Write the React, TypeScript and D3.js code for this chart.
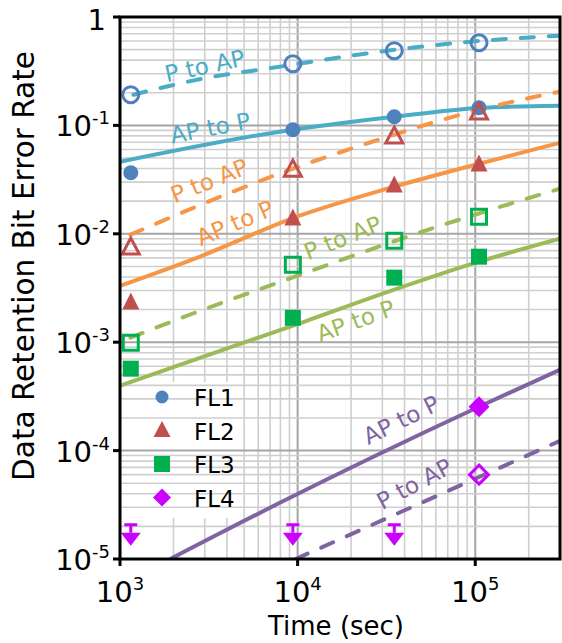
import React, { useEffect, useRef } from "react";
import * as d3 from "d3";

// marker times (sec)
const markerTimes = [1150, 9400, 35000, 105000];

// measured bit error rates, open = P to AP, filled = AP to P
const fl1Open = [0.192, 0.371, 0.489, 0.579];
const fl1Filled = [0.0366, 0.0913, 0.12, 0.1456];
const fl2Open = [0.00745, 0.039, 0.0787, 0.131];
const fl2Filled = [0.00231, 0.0138, 0.0278, 0.0434];
const fl3Open = [0.00099, 0.00519, 0.00863, 0.0144];
const fl3Filled = [0.00057, 0.00168, 0.00394, 0.00615];
const fl4OpenTimes = [105000];
const fl4Open = [6.0e-5];
const fl4FilledTimes = [105000];
const fl4Filled = [2.54e-4];
// upper limits (no errors observed)
const fl4LimitTimes = [1150, 9400, 35000];
const fl4Limit = [1.67e-5, 1.67e-5, 1.67e-5];

// fitted curves
const fl1PapT = [1190, 3090, 7250, 28800, 81000, 300000];
const fl1PapV = [0.192, 0.275, 0.34, 0.478, 0.579, 0.672];
const fl1AppT = [1000, 7940, 35000, 105000, 300000];
const fl1AppV = [0.0462, 0.0875, 0.12, 0.145, 0.152];
const fl2PapT = [1145, 1800, 3900, 8150, 25300, 105000, 300000];
const fl2PapV = [0.00981, 0.0135, 0.0229, 0.0366, 0.0692, 0.1396, 0.205];
const fl2AppT = [1000, 2550, 10270, 35000, 105000, 300000];
const fl2AppV = [0.0033, 0.00577, 0.0147, 0.0272, 0.0443, 0.0692];
const fl3PapT = [1145, 2550, 9640, 48300, 300000];
const fl3PapV = [0.0011, 0.00183, 0.00402, 0.01023, 0.0261];
const fl3AppT = [1000, 10960, 35000, 105000, 300000];
const fl3AppV = [0.000397, 0.00155, 0.00305, 0.00553, 0.00901];
const fl4AppT = [1920, 7940, 105000, 300000];
const fl4AppV = [1e-5, 3.3e-5, 2.54e-4, 5.57e-4];
const fl4PapT = [9750, 300000];
const fl4PapV = [1e-5, 1.23e-4];

const xTickExp = [3, 4, 5];
const yTickExp = [-5, -4, -3, -2, -1, 0];
const legendNames = ["FL1", "FL2", "FL3", "FL4"];

const curveLabels = [
  { text: "P to AP", t: 3000, v: 0.355, angle: -12, color: "#4bacc6" },
  { text: "AP to P", t: 3220, v: 0.0952, angle: -11, color: "#4bacc6" },
  { text: "P to AP", t: 3180, v: 0.0309, angle: -22, color: "#f79646" },
  { text: "AP to P", t: 4440, v: 0.01265, angle: -23, color: "#f79646" },
  { text: "P to AP", t: 17900, v: 0.0092, angle: -22, color: "#9bbb59" },
  { text: "AP to P", t: 21200, v: 0.00158, angle: -20, color: "#9bbb59" },
  { text: "AP to P", t: 38300, v: 1.93e-4, angle: -26, color: "#8064a2" },
  { text: "P to AP", t: 45300, v: 4.94e-5, angle: -28, color: "#8064a2" },
];

const FONT = "'DejaVu Sans', sans-serif";

function App() {
  const svgRef = useRef<SVGSVGElement | null>(null);

  useEffect(() => {
    const svg = d3.select(svgRef.current);
    svg.selectAll("*").remove();
    const left = 120, right = 560, top = 17, bottom = 559;

    const x = d3.scaleLog().domain([1e3, 3e5]).range([left, right]);
    const y = d3.scaleLog().domain([1e-5, 1]).range([bottom, top]);

    svg
      .append("defs")
      .append("clipPath")
      .attr("id", "plot-clip")
      .append("rect")
      .attr("x", left)
      .attr("y", top)
      .attr("width", right - left)
      .attr("height", bottom - top);

    // vertical grid
    const xGrid: { v: number; major: boolean }[] = [];
    for (let e = 3; e <= 5; e++)
      for (let k = 1; k <= 9; k++) {
        const v = k * Math.pow(10, e);
        if (v <= 3e5) xGrid.push({ v, major: k === 1 });
      }
    svg
      .append("g")
      .selectAll("line")
      .data(xGrid)
      .join("line")
      .attr("x1", (d) => x(d.v))
      .attr("x2", (d) => x(d.v))
      .attr("y1", top)
      .attr("y2", bottom)
      .attr("stroke", (d) => (d.major ? "#a6a6a6" : "#cfcfcf"))
      .attr("stroke-width", (d) => (d.major ? 2 : 1.6));

    // legend background (covers vertical grid only)
    svg
      .append("rect")
      .attr("x", 140)
      .attr("y", 382)
      .attr("width", 100)
      .attr("height", 136)
      .attr("fill", "#fff");

    // horizontal grid
    const yGrid: { v: number; major: boolean }[] = [];
    for (let e = -5; e <= -1; e++)
      for (let k = 1; k <= 9; k++) yGrid.push({ v: k * Math.pow(10, e), major: k === 1 });
    svg
      .append("g")
      .selectAll("line")
      .data(yGrid)
      .join("line")
      .attr("x1", left)
      .attr("x2", right)
      .attr("y1", (d) => y(d.v))
      .attr("y2", (d) => y(d.v))
      .attr("stroke", (d) => (d.major ? "#a6a6a6" : "#cfcfcf"))
      .attr("stroke-width", (d) => (d.major ? 2 : 1.6));

    // curves
    const line = d3
      .line<[number, number]>()
      .x((d) => x(d[0]))
      .y((d) => y(d[1]))
      .curve(d3.curveMonotoneX);
    const curves = [
      { t: fl1PapT, v: fl1PapV, color: "#4bacc6", dash: true },
      { t: fl1AppT, v: fl1AppV, color: "#4bacc6", dash: false },
      { t: fl2PapT, v: fl2PapV, color: "#f79646", dash: true },
      { t: fl2AppT, v: fl2AppV, color: "#f79646", dash: false },
      { t: fl3PapT, v: fl3PapV, color: "#9bbb59", dash: true },
      { t: fl3AppT, v: fl3AppV, color: "#9bbb59", dash: false },
      { t: fl4AppT, v: fl4AppV, color: "#8064a2", dash: false },
      { t: fl4PapT, v: fl4PapV, color: "#8064a2", dash: true },
    ];
    const cg = svg.append("g").attr("clip-path", "url(#plot-clip)");
    curves.forEach((c) => {
      cg.append("path")
        .datum(c.t.map((t, i) => [t, c.v[i]] as [number, number]))
        .attr("fill", "none")
        .attr("stroke", c.color)
        .attr("stroke-width", 4)
        .attr("stroke-linecap", c.dash ? "round" : "butt")
        .attr("stroke-dasharray", c.dash ? "13,15" : null)
        .attr("d", line);
    });

    // curve labels
    svg
      .append("g")
      .selectAll("text")
      .data(curveLabels)
      .join("text")
      .attr("transform", (d) => `translate(${x(d.t)},${y(d.v)}) rotate(${d.angle})`)
      .attr("text-anchor", "middle")
      .attr("dy", "0.36em")
      .attr("font-family", FONT)
      .attr("font-size", 23)
      .attr("fill", (d) => d.color)
      .text((d) => d.text);

    // marker shapes
    const tri = (w: number, h: number) =>
      `M0,${-h * 0.6}L${w / 2},${h * 0.4}L${-w / 2},${h * 0.4}Z`;
    const sq = (s: number) => `M${-s / 2},${-s / 2}h${s}v${s}h${-s}Z`;
    const dia = (s: number) => `M0,${-s / 2}L${s / 2},0L0,${s / 2}L${-s / 2},0Z`;
    const circ = (r: number) => `M${r},0A${r},${r} 0 1,1 ${-r},0A${r},${r} 0 1,1 ${r},0Z`;

    const mg = svg.append("g");
    const drawMarkers = (
      times: number[],
      vals: number[],
      shape: string,
      color: string,
      open: boolean
    ) => {
      mg.append("g")
        .selectAll("path")
        .data(vals)
        .join("path")
        .attr("transform", (d, i) => `translate(${x(times[i])},${y(d)})`)
        .attr("d", shape)
        .attr("fill", open ? "none" : color)
        .attr("stroke", open ? color : "none")
        .attr("stroke-width", open ? 3 : 0);
    };
    drawMarkers(markerTimes, fl1Open, circ(8), "#4f81bd", true);
    drawMarkers(markerTimes, fl1Filled, circ(7.5), "#4f81bd", false);
    drawMarkers(markerTimes, fl2Open, tri(17, 16), "#c0504d", true);
    drawMarkers(markerTimes, fl2Filled, tri(17, 17), "#c0504d", false);
    drawMarkers(markerTimes, fl3Open, sq(15), "#00b050", true);
    drawMarkers(markerTimes, fl3Filled, sq(16), "#00b050", false);
    drawMarkers(fl4FilledTimes, fl4Filled, dia(21), "#cc00ff", false);
    drawMarkers(fl4OpenTimes, fl4Open, dia(19), "#cc00ff", true);

    // upper-limit arrows
    const arrows = mg
      .append("g")
      .selectAll("g")
      .data(fl4Limit)
      .join("g")
      .attr("transform", (d, i) => `translate(${x(fl4LimitTimes[i])},${y(d)})`);
    arrows
      .append("path")
      .attr("d", "M-6.5,-10H6.5M0,-10V-2")
      .attr("stroke", "#cc00ff")
      .attr("stroke-width", 3)
      .attr("fill", "none");
    arrows.append("path").attr("d", "M-10,-2L10,-2L0,11Z").attr("fill", "#cc00ff");

    // frame
    svg
      .append("rect")
      .attr("x", left)
      .attr("y", top)
      .attr("width", right - left)
      .attr("height", bottom - top)
      .attr("fill", "none")
      .attr("stroke", "#000")
      .attr("stroke-width", 3);

    // ticks
    svg
      .append("g")
      .selectAll("line")
      .data(yTickExp)
      .join("line")
      .attr("x1", left - 7)
      .attr("x2", left)
      .attr("y1", (e) => y(Math.pow(10, e)))
      .attr("y2", (e) => y(Math.pow(10, e)))
      .attr("stroke", "#000")
      .attr("stroke-width", 3);
    svg
      .append("g")
      .selectAll("line")
      .data(xTickExp)
      .join("line")
      .attr("x1", (e) => x(Math.pow(10, e)))
      .attr("x2", (e) => x(Math.pow(10, e)))
      .attr("y1", bottom)
      .attr("y2", bottom + 7)
      .attr("stroke", "#000")
      .attr("stroke-width", 3);

    // tick labels
    const yl = svg
      .append("g")
      .selectAll("text")
      .data(yTickExp)
      .join("text")
      .attr("x", 110)
      .attr("y", (e) => y(Math.pow(10, e)) + 11)
      .attr("text-anchor", "end")
      .attr("font-family", FONT)
      .attr("font-size", 29)
      .attr("fill", "#000");
    yl.each(function (e) {
      const t = d3.select(this);
      if (e === 0) {
        t.attr("x", 106).attr("y", 30).text("1");
        return;
      }
      t.append("tspan").text("10");
      t.append("tspan").attr("font-size", 18).attr("dy", -12).text(String(e));
    });
    const xl = svg
      .append("g")
      .selectAll("text")
      .data(xTickExp)
      .join("text")
      .attr("x", (e) => x(Math.pow(10, e)))
      .attr("y", 602)
      .attr("text-anchor", "middle")
      .attr("font-family", FONT)
      .attr("font-size", 29)
      .attr("fill", "#000");
    xl.each(function (e) {
      const t = d3.select(this);
      t.append("tspan").text("10");
      t.append("tspan").attr("font-size", 18).attr("dy", -12).text(String(e));
    });

    // axis titles
    svg
      .append("text")
      .attr("x", 336)
      .attr("y", 635)
      .attr("text-anchor", "middle")
      .attr("font-family", FONT)
      .attr("font-size", 26)
      .text("Time (sec)");
    svg
      .append("text")
      .attr("transform", "translate(34,266) rotate(-90)")
      .attr("text-anchor", "middle")
      .attr("font-family", FONT)
      .attr("font-size", 29.5)
      .text("Data Retention Bit Error Rate");

    // legend entries
    const legendShapes = [circ(6.5), tri(17, 16), sq(16), dia(18)];
    const legendColors = ["#4f81bd", "#c0504d", "#00b050", "#cc00ff"];
    const lg = svg
      .append("g")
      .selectAll("g")
      .data(legendNames)
      .join("g")
      .attr("transform", (d, i) => `translate(0,${397 + i * 33.5})`);
    lg.append("path")
      .attr("transform", "translate(162,0)")
      .attr("d", (d, i) => legendShapes[i])
      .attr("fill", (d, i) => legendColors[i]);
    lg.append("text")
      .attr("x", 194)
      .attr("y", 9)
      .attr("font-family", FONT)
      .attr("font-size", 23)
      .attr("fill", "#000")
      .text((d) => d);
  }, []);

  return (
    <svg
      ref={svgRef}
      width={562}
      height={643}
      style={{ position: "absolute", left: 0, top: 0, background: "#fff" }}
    ></svg>
  );
}

export default App;
